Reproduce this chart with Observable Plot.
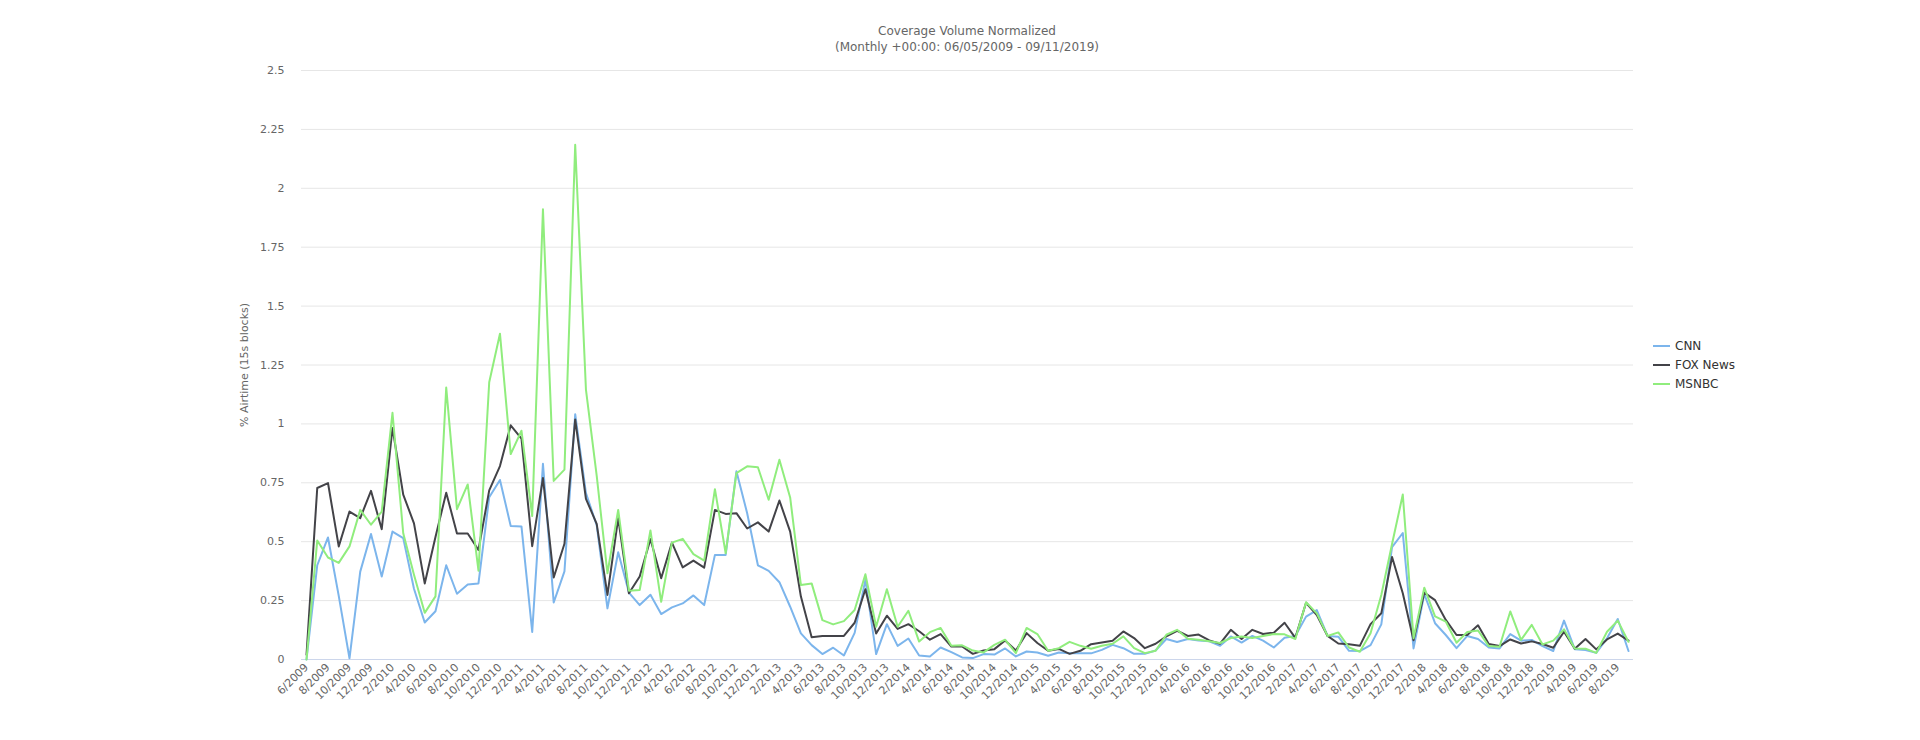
<!DOCTYPE html>
<html>
<head>
<meta charset="utf-8">
<script src="https://cdn.jsdelivr.net/npm/d3@7"></script>
<script src="https://cdn.jsdelivr.net/npm/@observablehq/plot@0.6"></script>
<style>
  body { margin: 0; background: #fff; font-family: "DejaVu Sans", sans-serif; }
  #wrap { position: relative; width: 1920px; height: 740px; overflow: hidden; background: #fff; }
  #chart { position: absolute; left: 0; top: 0; }
  .title { position: absolute; left: 0; width: 1934px; text-align: center; color: #666; font-size: 12px; line-height: 16px; white-space: nowrap; }
  #ylabel { position: absolute; left: 244px; top: 365px; transform: translate(-50%, -50%) rotate(-90deg); color: #666; font-size: 11px; white-space: nowrap; }
  .leg { position: absolute; left: 1653px; height: 16px; line-height: 16px; font-size: 12px; color: #333; white-space: nowrap; }
  .leg span.sw { display: inline-block; width: 17px; height: 2px; vertical-align: middle; margin-right: 5px; position: relative; top: -1px; }
</style>
</head>
<body>
<div id="wrap">
  <div id="chart"></div>
  <div class="title" style="top:23px">Coverage Volume Normalized</div>
  <div class="title" style="top:39px">(Monthly +00:00: 06/05/2009 - 09/11/2019)</div>
  <div id="ylabel">% Airtime (15s blocks)</div>
  <div id="legend"></div>
</div>
<script>
// Categories: monthly from 6/2009 to 9/2019
const months = d3.utcMonth.range(new Date(Date.UTC(2009, 5, 1)), new Date(Date.UTC(2019, 9, 1)))
  .map(d => `${d.getUTCMonth() + 1}/${d.getUTCFullYear()}`);
const tickLabels = months.filter((d, i) => i % 2 === 0);
const yTicks = [0, 0.25, 0.5, 0.75, 1, 1.25, 1.5, 1.75, 2, 2.25, 2.5];

const seriesNames = ["CNN", "FOX News", "MSNBC"];
const seriesColors = ["#7cb5ec", "#434348", "#90ed7d"];

const cnn = [
  0.0, 0.40, 0.518, 0.27, 0.005, 0.373, 0.533, 0.352, 0.543, 0.515,
  0.30, 0.157, 0.205, 0.40, 0.279, 0.318, 0.323, 0.689, 0.762, 0.567,
  0.565, 0.117, 0.831, 0.242, 0.374, 1.041, 0.706, 0.57, 0.217, 0.455,
  0.284, 0.231, 0.275, 0.193, 0.221, 0.238, 0.272, 0.231, 0.444, 0.444,
  0.799, 0.621, 0.40, 0.376, 0.328, 0.224, 0.111, 0.061, 0.023, 0.05,
  0.017, 0.113, 0.338, 0.023, 0.15, 0.058, 0.089, 0.017, 0.013, 0.051,
  0.031, 0.009, 0.006, 0.023, 0.021, 0.047, 0.013, 0.034, 0.03, 0.016,
  0.03, 0.027, 0.026, 0.026, 0.041, 0.062, 0.048, 0.024, 0.024, 0.038,
  0.087, 0.074, 0.087, 0.081, 0.077, 0.058, 0.098, 0.072, 0.10, 0.08,
  0.051, 0.092, 0.10, 0.182, 0.21, 0.10, 0.097, 0.037, 0.036, 0.061,
  0.149, 0.477, 0.537, 0.047, 0.278, 0.154, 0.104, 0.048, 0.10, 0.087,
  0.051, 0.047, 0.108, 0.08, 0.083, 0.057, 0.036, 0.165, 0.044, 0.04,
  0.028, 0.09, 0.172, 0.036
];
const fox = [
  0.02, 0.728, 0.749, 0.48, 0.628, 0.60, 0.716, 0.553, 0.983, 0.70,
  0.578, 0.323, 0.52, 0.708, 0.535, 0.535, 0.465, 0.718, 0.821, 0.994,
  0.938, 0.481, 0.77, 0.348, 0.491, 1.019, 0.682, 0.576, 0.274, 0.60,
  0.281, 0.352, 0.511, 0.345, 0.496, 0.391, 0.42, 0.39, 0.635, 0.618,
  0.621, 0.556, 0.582, 0.543, 0.675, 0.543, 0.267, 0.094, 0.10, 0.10,
  0.10, 0.156, 0.298, 0.11, 0.186, 0.13, 0.15, 0.12, 0.084, 0.108,
  0.055, 0.055, 0.024, 0.038, 0.044, 0.081, 0.038, 0.112, 0.07, 0.037,
  0.045, 0.024, 0.037, 0.065, 0.072, 0.08, 0.119, 0.091, 0.048, 0.067,
  0.098, 0.122, 0.10, 0.106, 0.081, 0.067, 0.126, 0.087, 0.126, 0.108,
  0.114, 0.156, 0.092, 0.241, 0.189, 0.10, 0.068, 0.065, 0.058, 0.15,
  0.196, 0.435, 0.281, 0.082, 0.284, 0.252, 0.168, 0.104, 0.104, 0.145,
  0.066, 0.057, 0.085, 0.068, 0.077, 0.066, 0.05, 0.118, 0.046, 0.087,
  0.043, 0.085, 0.11, 0.08
];
const msnbc = [
  0.0, 0.505, 0.433, 0.41, 0.48, 0.635, 0.572, 0.628, 1.047, 0.536,
  0.36, 0.198, 0.268, 1.154, 0.638, 0.743, 0.377, 1.177, 1.383, 0.872,
  0.971, 0.609, 1.911, 0.758, 0.806, 2.185, 1.146, 0.78, 0.366, 0.635,
  0.292, 0.295, 0.548, 0.245, 0.496, 0.512, 0.447, 0.42, 0.723, 0.451,
  0.791, 0.82, 0.816, 0.678, 0.848, 0.688, 0.316, 0.323, 0.167, 0.149,
  0.163, 0.21, 0.362, 0.139, 0.298, 0.139, 0.207, 0.076, 0.116, 0.134,
  0.058, 0.06, 0.038, 0.03, 0.062, 0.084, 0.027, 0.134, 0.108, 0.037,
  0.048, 0.075, 0.058, 0.046, 0.058, 0.067, 0.098, 0.048, 0.027, 0.037,
  0.105, 0.126, 0.088, 0.084, 0.077, 0.07, 0.091, 0.098, 0.091, 0.10,
  0.108, 0.107, 0.087, 0.243, 0.196, 0.10, 0.115, 0.051, 0.033, 0.111,
  0.274, 0.49, 0.70, 0.09, 0.305, 0.183, 0.161, 0.071, 0.117, 0.123,
  0.057, 0.054, 0.204, 0.083, 0.147, 0.064, 0.08, 0.128, 0.047, 0.046,
  0.028, 0.118, 0.165, 0.075
];

const seriesValues = [cnn, fox, msnbc];
const rows = [];
seriesNames.forEach((name, s) => {
  seriesValues[s].forEach((v, i) => rows.push({ month: months[i], value: v, series: name }));
});

const chart = Plot.plot({
  width: 1920,
  height: 740,
  marginLeft: 301,
  marginRight: 287,
  marginTop: 70,
  marginBottom: 81,
  style: { fontFamily: "'DejaVu Sans', sans-serif", fontSize: "11px", color: "#666", background: "transparent" },
  x: { type: "point", domain: months, padding: 0, insetLeft: 5, insetRight: 5 },
  y: { domain: [0, 2.5] },
  color: { domain: seriesNames, range: seriesColors },
  marks: [
    Plot.gridY(yTicks.filter(d => d > 0), { stroke: "#e6e6e6", strokeOpacity: 1 }),
    Plot.ruleY([0], { stroke: "#ccd6eb" }),
    Plot.axisY(yTicks, { tickSize: 0, tickPadding: 17, tickFormat: d => `${d}`, label: null, fill: "#666", fontSize: 11 }),
    Plot.axisX(tickLabels, { tickSize: 0, tickRotate: -45, tickPadding: 6, label: null, fill: "#666", fontSize: 11 }),
    Plot.lineY(rows, { x: "month", y: "value", z: "series", stroke: "series", strokeWidth: 2 })
  ]
});
document.getElementById("chart").appendChild(chart);

// Legend
const legend = document.getElementById("legend");
const legendTops = [338, 357, 376];
seriesNames.forEach((name, i) => {
  const d = document.createElement("div");
  d.className = "leg";
  d.style.top = legendTops[i] + "px";
  d.innerHTML = `<span class="sw" style="background:${seriesColors[i]}"></span>${name}`;
  legend.appendChild(d);
});
</script>
</body>
</html>
